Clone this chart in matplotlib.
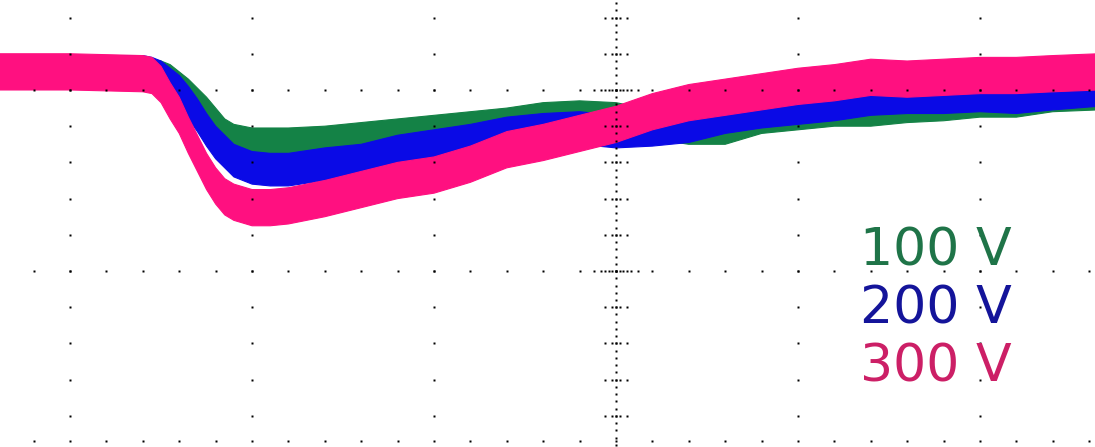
import numpy as np
import matplotlib.pyplot as plt

# time axis in horizontal divisions (0 = screen centre)
t = [-3.40, -3.00, -2.60, -2.55, -2.50, -2.45, -2.40, -2.35, -2.30, -2.25,
     -2.20, -2.15, -2.10, -2.00, -1.90, -1.80, -1.60, -1.40, -1.20, -1.00,
     -0.80, -0.60, -0.40, -0.20, 0.00, 0.20, 0.40, 0.60, 0.80, 1.00,
     1.20, 1.40, 1.60, 1.80, 2.00, 2.20, 2.40, 2.65]

# trace levels in vertical divisions
v100 = [0.10, 0.10, 0.10, 0.09, 0.08, 0.06, 0.02, -0.02, -0.07, -0.12,
        -0.18, -0.24, -0.27, -0.29, -0.29, -0.29, -0.28, -0.26, -0.24, -0.22,
        -0.20, -0.18, -0.15, -0.14, -0.15, -0.19, -0.22, -0.22, -0.16, -0.14,
        -0.12, -0.12, -0.10, -0.09, -0.07, -0.07, -0.04, -0.03]
v200 = [0.10, 0.10, 0.10, 0.09, 0.07, 0.03, -0.01, -0.07, -0.14, -0.22,
        -0.29, -0.34, -0.39, -0.43, -0.44, -0.44, -0.41, -0.39, -0.34, -0.31,
        -0.28, -0.24, -0.22, -0.21, -0.23, -0.22, -0.20, -0.15, -0.12, -0.10,
        -0.08, -0.05, -0.04, -0.04, -0.03, -0.04, -0.02, 0.00]
v300 = [0.10, 0.10, 0.09, 0.08, 0.03, -0.06, -0.14, -0.25, -0.35, -0.45,
        -0.53, -0.59, -0.62, -0.65, -0.65, -0.64, -0.60, -0.55, -0.50, -0.47,
        -0.41, -0.33, -0.29, -0.24, -0.19, -0.12, -0.07, -0.04, -0.01, 0.02,
        0.04, 0.07, 0.06, 0.07, 0.08, 0.08, 0.09, 0.10]

labels = ['100 V', '200 V', '300 V']
trace_colors = ['#148246', '#0a0ae6', '#ff1080']
text_colors = ['#1f7448', '#14149a', '#cc1f66']
noise = [0.08, 0.09, 0.10]   # half-width of the noisy band, div

fig = plt.figure(figsize=(10.95, 4.47), dpi=100)
ax = fig.add_axes([0, 0, 1, 1])
ax.set_xlim(-3.385, 2.632)
ax.set_ylim(-1.972, 0.497)
ax.axis('off')

# graticule dots
dot = dict(marker='s', ms=2.0, color='black', ls='none', mec='none')
cols = np.arange(-3, 3)
for c in cols:
    ys = np.arange(-1.8, 0.41, 0.2)
    ax.plot(np.full(len(ys), c), ys, **dot)
for r in [0.0, -1.0, -1.94]:
    xs = np.arange(-3.4, 2.65, 0.2)
    ax.plot(xs, np.full(len(xs), r), **dot)
# centre column: fine dots plus small ticks
ys = np.arange(-1.96, 0.5, 0.04)
ax.plot(np.zeros(len(ys)), ys, **dot)
for y in np.arange(-1.8, 0.41, 0.2):
    ax.plot([-0.06, -0.02, 0.02, 0.06], [y] * 4, **dot)
for r in [0.0, -1.0]:
    xs = np.arange(-0.12, 0.13, 0.04)
    ax.plot(xs, np.full(len(xs), r), **dot)

# traces, lowest voltage first so 300 V sits on top
for vals, col, hw in zip([v100, v200, v300], trace_colors, noise):
    vals = np.array(vals)
    ax.fill_between(t, vals - hw, vals + hw, color=col, lw=0.8, ec=col)

for i, (lab, col) in enumerate(zip(labels, text_colors)):
    ax.text(1.34, -0.97 - 0.32 * i, lab, color=col, fontsize=37.5,
            family='DejaVu Sans', va='baseline', ha='left')

fig.savefig('out.png', dpi=100)
